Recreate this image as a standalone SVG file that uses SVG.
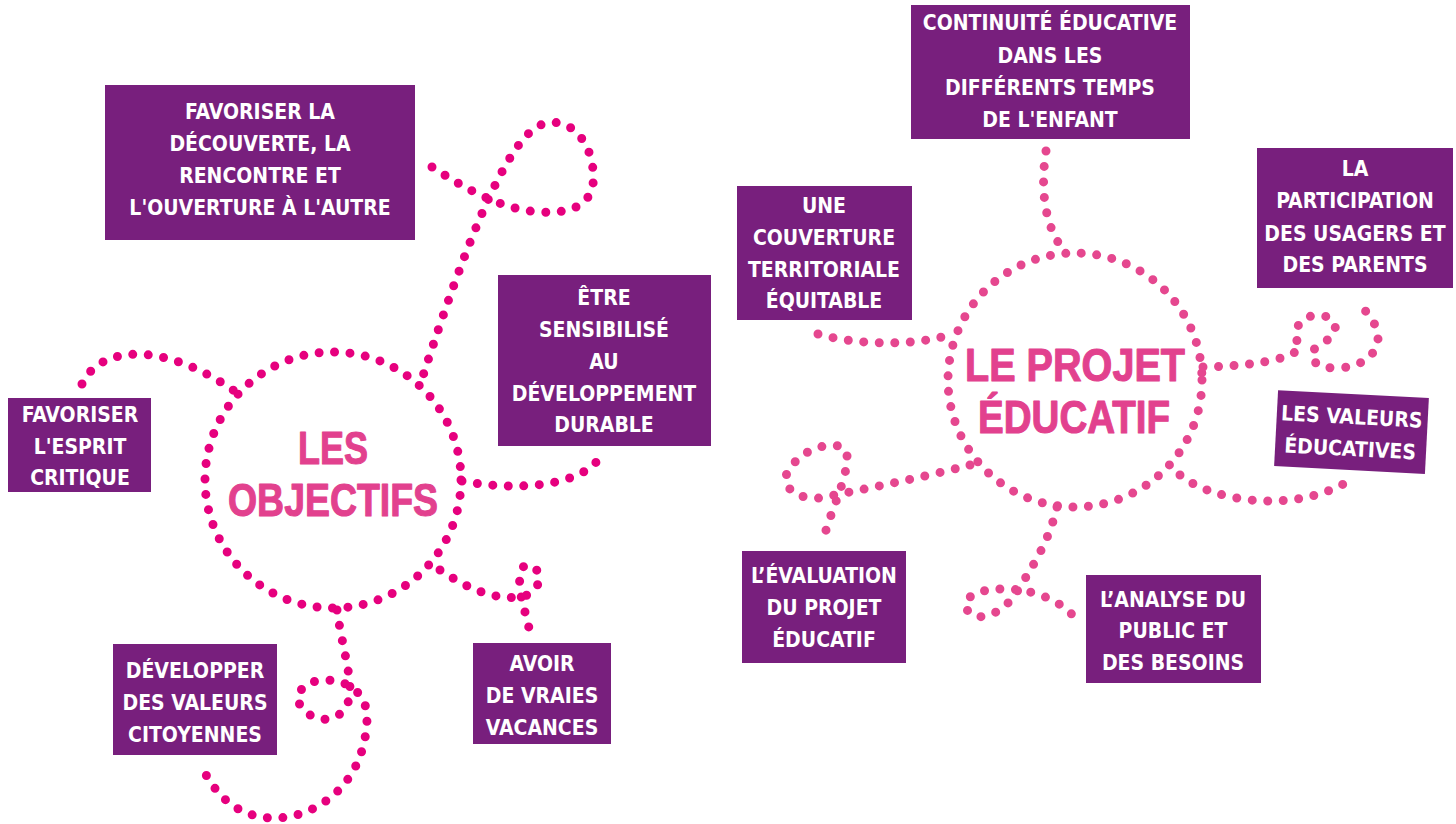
<svg xmlns="http://www.w3.org/2000/svg" width="1456" height="824" viewBox="0 0 1456 824">
<style>
.box{fill:#781f7d}
.bt{font-family:"DejaVu Sans Condensed","DejaVu Sans","Liberation Sans",sans-serif;font-weight:bold;font-size:21px;fill:#ffffff;text-anchor:middle}
.title{font-family:"Liberation Sans",Arial,sans-serif;font-weight:bold;font-size:46px;fill:#e2418e;stroke:#e2418e;stroke-width:1.1;stroke-linejoin:round;text-anchor:middle}
.dl{fill:none;stroke:#e6007e;stroke-width:9;stroke-linecap:round;stroke-dasharray:0 15.5}
.dr{fill:none;stroke:#e5478f;stroke-width:9;stroke-linecap:round;stroke-dasharray:0 15.5}
</style>
<rect width="1456" height="824" fill="#ffffff"/>
<g id="connectors">
<circle class="dl" cx="333" cy="480" r="128"/>
<path class="dl" d="M 432 167 C 460 185 500 210 540 212 C 590 215 600 190 590 155 C 580 125 555 115 535 128 C 505 150 470 230 420 385"/>
<path class="dl" d="M 82 384 C 100 345 165 340 240 395"/>
<path class="dl" d="M 462 481 C 520 492 578 485 598 460"/>
<path class="dl" d="M 440 570 C 470 590 495 600 522 597 C 540 592 546 572 530 565 C 518 562 518 585 522 600 L 530 632"/>
<path class="dl" d="M 337 610 C 341 640 350 670 350 690 C 350 720 320 728 303 709 C 290 695 305 680 325 680 C 350 680 368 695 367 720 C 364 790 310 820 270 818 C 240 816 220 800 205 773"/>
<circle class="dr" cx="1075" cy="380" r="127"/>
<path class="dr" d="M 1046 151 C 1040 190 1045 225 1062 248"/>
<path class="dr" d="M 818 334 C 860 346 920 346 955 333"/>
<path class="dr" d="M 1203 367 C 1250 366 1290 360 1300 348 C 1290 330 1300 315 1320 315 C 1340 318 1340 335 1322 343 C 1305 352 1310 368 1335 368 C 1370 368 1385 345 1375 325 C 1370 315 1363 308 1357 302"/>
<path class="dr" d="M 1180 475 C 1210 500 1290 515 1347 482"/>
<path class="dr" d="M 970 465 C 920 478 860 490 820 498 C 790 500 775 480 795 462 C 810 445 845 438 847 455 C 848 480 830 510 822 545"/>
<path class="dr" d="M 1057 507 C 1048 545 1030 570 1015 595 C 1000 615 975 625 966 608 C 962 590 1000 585 1030 592 C 1050 597 1068 607 1078 622"/>
</g>
<g id="title-objectifs">
<text class="title" x="333" y="464" textLength="70" lengthAdjust="spacingAndGlyphs">LES</text>
<text class="title" x="333" y="516" textLength="210" lengthAdjust="spacingAndGlyphs">OBJECTIFS</text>
</g>
<g id="title-projet">
<text class="title" x="1075" y="381" textLength="220" lengthAdjust="spacingAndGlyphs">LE PROJET</text>
<text class="title" x="1074" y="433" textLength="192" lengthAdjust="spacingAndGlyphs">ÉDUCATIF</text>
</g>
<g id="node-decouverte">
<rect class="box" x="105" y="85" width="310" height="155"/>
<text class="bt" x="260" y="119">FAVORISER LA</text>
<text class="bt" x="260" y="151">DÉCOUVERTE, LA</text>
<text class="bt" x="260" y="183">RENCONTRE ET</text>
<text class="bt" x="260" y="215">L'OUVERTURE À L'AUTRE</text>
</g>
<g id="node-esprit-critique">
<rect class="box" x="8" y="398" width="143" height="94"/>
<text class="bt" x="80" y="422">FAVORISER</text>
<text class="bt" x="80" y="454">L'ESPRIT</text>
<text class="bt" x="80" y="485">CRITIQUE</text>
</g>
<g id="node-developpement-durable">
<rect class="box" x="498" y="275" width="213" height="171"/>
<text class="bt" x="604" y="305">ÊTRE</text>
<text class="bt" x="604" y="337">SENSIBILISÉ</text>
<text class="bt" x="604" y="369">AU</text>
<text class="bt" x="604" y="401">DÉVELOPPEMENT</text>
<text class="bt" x="604" y="432">DURABLE</text>
</g>
<g id="node-valeurs-citoyennes">
<rect class="box" x="113" y="644" width="164" height="111"/>
<text class="bt" x="195" y="678">DÉVELOPPER</text>
<text class="bt" x="195" y="710">DES VALEURS</text>
<text class="bt" x="195" y="742">CITOYENNES</text>
</g>
<g id="node-vacances">
<rect class="box" x="473" y="643" width="138" height="101"/>
<text class="bt" x="542" y="671">AVOIR</text>
<text class="bt" x="542" y="703">DE VRAIES</text>
<text class="bt" x="542" y="735">VACANCES</text>
</g>
<g id="node-continuite">
<rect class="box" x="911" y="5" width="279" height="134"/>
<text class="bt" x="1050" y="30">CONTINUITÉ ÉDUCATIVE</text>
<text class="bt" x="1050" y="63">DANS LES</text>
<text class="bt" x="1050" y="95">DIFFÉRENTS TEMPS</text>
<text class="bt" x="1050" y="127">DE L'ENFANT</text>
</g>
<g id="node-couverture">
<rect class="box" x="737" y="186" width="175" height="134"/>
<text class="bt" x="824" y="213">UNE</text>
<text class="bt" x="824" y="245">COUVERTURE</text>
<text class="bt" x="824" y="277">TERRITORIALE</text>
<text class="bt" x="824" y="308">ÉQUITABLE</text>
</g>
<g id="node-participation">
<rect class="box" x="1257" y="148" width="196" height="140"/>
<text class="bt" x="1355" y="176">LA</text>
<text class="bt" x="1355" y="208">PARTICIPATION</text>
<text class="bt" x="1355" y="241">DES USAGERS ET</text>
<text class="bt" x="1355" y="272">DES PARENTS</text>
</g>
<g id="node-valeurs-educatives" transform="rotate(3 1351 432)">
<rect class="box" x="1276" y="394" width="151" height="76"/>
<text class="bt" x="1351" y="424">LES VALEURS</text>
<text class="bt" x="1351" y="456">ÉDUCATIVES</text>
</g>
<g id="node-evaluation">
<rect class="box" x="742" y="551" width="164" height="112"/>
<text class="bt" x="824" y="583">L’ÉVALUATION</text>
<text class="bt" x="824" y="615">DU PROJET</text>
<text class="bt" x="824" y="647">ÉDUCATIF</text>
</g>
<g id="node-analyse">
<rect class="box" x="1086" y="575" width="175" height="108"/>
<text class="bt" x="1173" y="607">L’ANALYSE DU</text>
<text class="bt" x="1173" y="638">PUBLIC ET</text>
<text class="bt" x="1173" y="670">DES BESOINS</text>
</g>
</svg>
